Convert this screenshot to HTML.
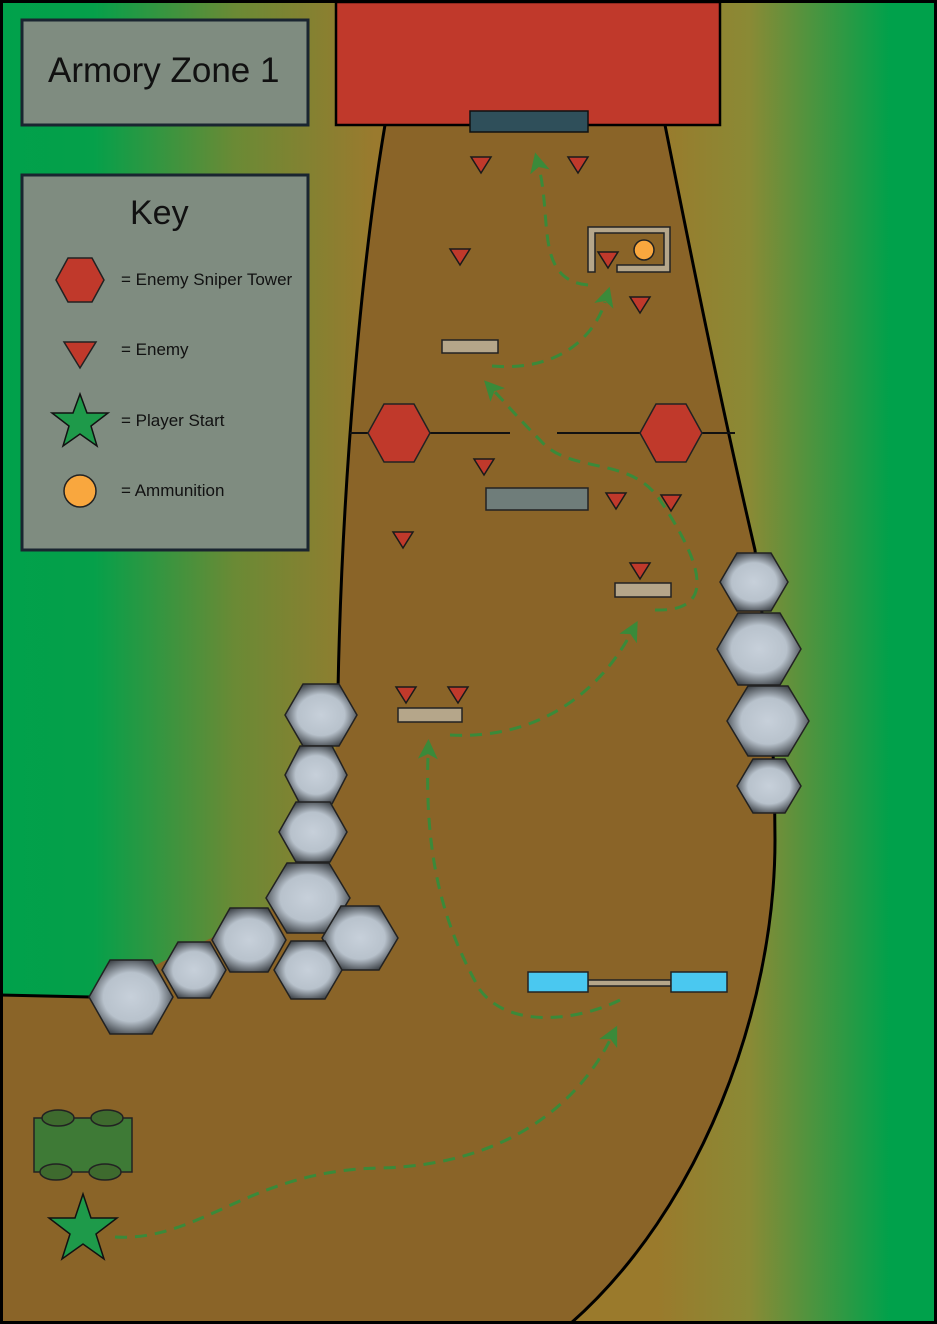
<!DOCTYPE html>
<html><head><meta charset="utf-8"><style>html,body{margin:0;padding:0;background:#fff}svg{display:block}</style></head>
<body>
<svg width="937" height="1324" viewBox="0 0 937 1324" xmlns="http://www.w3.org/2000/svg" font-family="Liberation Sans, sans-serif">
<defs>
<linearGradient id="bg" x1="0" x2="1" y1="0" y2="0">
<stop offset="0" stop-color="#00a14b"/><stop offset="0.1" stop-color="#05a04a"/>
<stop offset="0.25" stop-color="#6a8a35"/><stop offset="0.4" stop-color="#9a7a2e"/>
<stop offset="0.7" stop-color="#9a7a2c"/><stop offset="0.8" stop-color="#8a8a35"/>
<stop offset="0.95" stop-color="#00a14b"/><stop offset="1" stop-color="#00a14b"/>
</linearGradient>
<radialGradient id="rock" cx="0.5" cy="0.5" r="0.55">
<stop offset="0" stop-color="#c7d0da"/><stop offset="0.6" stop-color="#b8c2cc"/><stop offset="1" stop-color="#3a3f44"/>
</radialGradient>
<g id="tri"><polygon points="-10,-8 10,-8 0,8" fill="#c0392b" stroke="#1a1a1a" stroke-width="1.5"/></g>
<marker id="ar" markerWidth="20" markerHeight="20" refX="4" refY="10" orient="auto" markerUnits="userSpaceOnUse" viewBox="0 0 20 20">
<polygon points="0,0 20,10 0,20 5,10" fill="#3a8a3a"/></marker>
</defs>
<rect x="0" y="0" width="937" height="1324" fill="url(#bg)"/>
<path d="M385,125 C362,260 342,480 338,690 L330,880 L90,997 L0,995 L0,1324 L570,1324 C700,1210 775,1010 775,840 C775,700 760,600 755,550 C720,400 690,250 665,125 Z" fill="#8a6428"/>
<path d="M385,125 C362,260 342,480 338,690" fill="none" stroke="#000" stroke-width="3"/>
<path d="M0,995 L90,997" fill="none" stroke="#000" stroke-width="3"/>
<path d="M665,125 C690,250 720,400 755,550 C760,600 775,700 775,840 C775,1010 700,1210 570,1324" fill="none" stroke="#000" stroke-width="3"/>
<rect x="1.5" y="1.5" width="934" height="1321" fill="none" stroke="#000" stroke-width="3"/>
<rect x="336" y="2" width="384" height="123" fill="#c0392b" stroke="#000" stroke-width="2.5"/>
<rect x="470" y="111" width="118" height="21" fill="#2f4f5a" stroke="#111" stroke-width="1.5"/>
<g stroke="#222" stroke-width="1.5" fill="url(#rock)">
<polygon points="285,715 303,684 339,684 357,715 339,746 303,746"/>
<polygon points="285,775 300,746 332,746 347,775 332,804 300,804"/>
<polygon points="279,832 296,802 330,802 347,832 330,862 296,862"/>
<polygon points="266,898 287,863 329,863 350,898 329,933 287,933"/>
<polygon points="322,938 341,906 379,906 398,938 379,970 341,970"/>
<polygon points="212,940 230,908 268,908 286,940 268,972 230,972"/>
<polygon points="274,970 291,941 325,941 342,970 325,999 291,999"/>
<polygon points="162,970 178,942 210,942 226,970 210,998 178,998"/>
<polygon points="89,997 110,960 152,960 173,997 152,1034 110,1034"/>
<polygon points="720,582 737,553 771,553 788,582 771,611 737,611"/>
<polygon points="717,649 738,613 780,613 801,649 780,685 738,685"/>
<polygon points="727,721 748,686 788,686 809,721 788,756 748,756"/>
<polygon points="737,786 753,759 785,759 801,786 785,813 753,813"/>
</g>
<line x1="350" y1="433" x2="510" y2="433" stroke="#111" stroke-width="2"/>
<line x1="557" y1="433" x2="735" y2="433" stroke="#111" stroke-width="2"/>
<polygon points="368,433 384,404 414,404 430,433 414,462 384,462" fill="#c0392b" stroke="#222" stroke-width="1.5"/>
<polygon points="640,433 656,404 686,404 702,433 686,462 656,462" fill="#c0392b" stroke="#222" stroke-width="1.5"/>
<g stroke="#222" stroke-width="1.5">
<rect x="442" y="340" width="56" height="13" fill="#b5a68a"/>
<rect x="486" y="488" width="102" height="22" fill="#6f7d7a"/>
<rect x="615" y="583" width="56" height="14" fill="#b5a68a"/>
<rect x="398" y="708" width="64" height="14" fill="#b5a68a"/>
<rect x="588" y="980" width="83" height="6" fill="#b5a68a"/>
<rect x="528" y="972" width="60" height="20" fill="#4ac8f0"/>
<rect x="671" y="972" width="56" height="20" fill="#4ac8f0"/>
</g>
<path d="M588,227 L670,227 L670,272 L617,272 L617,265 L664,265 L664,233 L595,233 L595,272 L588,272 Z" fill="#b5a68a" stroke="#222" stroke-width="1.5"/>
<circle cx="644" cy="250" r="10" fill="#f9a73e" stroke="#222" stroke-width="1.5"/>
<use href="#tri" x="481" y="165"/><use href="#tri" x="578" y="165"/>
<use href="#tri" x="460" y="257"/><use href="#tri" x="608" y="260"/>
<use href="#tri" x="640" y="305"/><use href="#tri" x="484" y="467"/>
<use href="#tri" x="616" y="501"/><use href="#tri" x="671" y="503"/>
<use href="#tri" x="403" y="540"/><use href="#tri" x="640" y="571"/>
<use href="#tri" x="406" y="695"/><use href="#tri" x="458" y="695"/>
<rect x="34" y="1118" width="98" height="54" fill="#3e7a36" stroke="#222" stroke-width="1.5"/>
<g fill="#3e6a2e" stroke="#222" stroke-width="1.5">
<ellipse cx="58" cy="1118" rx="16" ry="8"/><ellipse cx="107" cy="1118" rx="16" ry="8"/>
<ellipse cx="56" cy="1172" rx="16" ry="8"/><ellipse cx="105" cy="1172" rx="16" ry="8"/>
</g>
<polygon points="83,1194 91,1218 117,1218 96,1234 104,1259 83,1244 62,1259 70,1234 49,1218 75,1218" fill="#1e9a4a" stroke="#111" stroke-width="1.5"/>
<g fill="none" stroke="#3a8a3a" stroke-width="3" stroke-dasharray="12 8">
<path d="M115,1237 C200,1242 250,1170 380,1168 C510,1165 580,1100 610,1040" marker-end="url(#ar)"/>
<path d="M620,1000 C580,1020 510,1030 480,990 C440,920 425,850 428,755" marker-end="url(#ar)"/>
<path d="M450,735 C540,740 600,690 630,635" marker-end="url(#ar)"/>
<path d="M655,610 C720,612 700,560 660,500 C630,455 570,475 540,440 C520,420 510,408 495,392" marker-end="url(#ar)"/>
<path d="M492,366 C560,372 595,335 605,302" marker-end="url(#ar)"/>
<path d="M588,285 C535,280 552,220 539,168" marker-end="url(#ar)"/>
</g>
<rect x="22" y="20" width="286" height="105" fill="#7f8c80" stroke="#1a2530" stroke-width="3"/>
<text x="48" y="82" font-size="35" fill="#111">Armory Zone 1</text>
<rect x="22" y="175" width="286" height="375" fill="#7f8c80" stroke="#1a2530" stroke-width="3"/>
<text x="130" y="224" font-size="34" fill="#111">Key</text>
<polygon points="56,280 68,258 92,258 104,280 92,302 68,302" fill="#c0392b" stroke="#222" stroke-width="1.5"/>
<polygon points="64,342 96,342 80,368" fill="#c0392b" stroke="#222" stroke-width="1.5"/>
<polygon points="80,394 87,413 108,413 91,426 97,446 80,434 63,446 69,426 52,413 73,413" fill="#1e9a4a" stroke="#111" stroke-width="1.5"/>
<circle cx="80" cy="491" r="16" fill="#f9a73e" stroke="#222" stroke-width="1.5"/>
<g font-size="17" fill="#111">
<text x="121" y="285">= Enemy Sniper Tower</text>
<text x="121" y="355">= Enemy</text>
<text x="121" y="426">= Player Start</text>
<text x="121" y="496">= Ammunition</text>
</g>
</svg>
</body></html>
